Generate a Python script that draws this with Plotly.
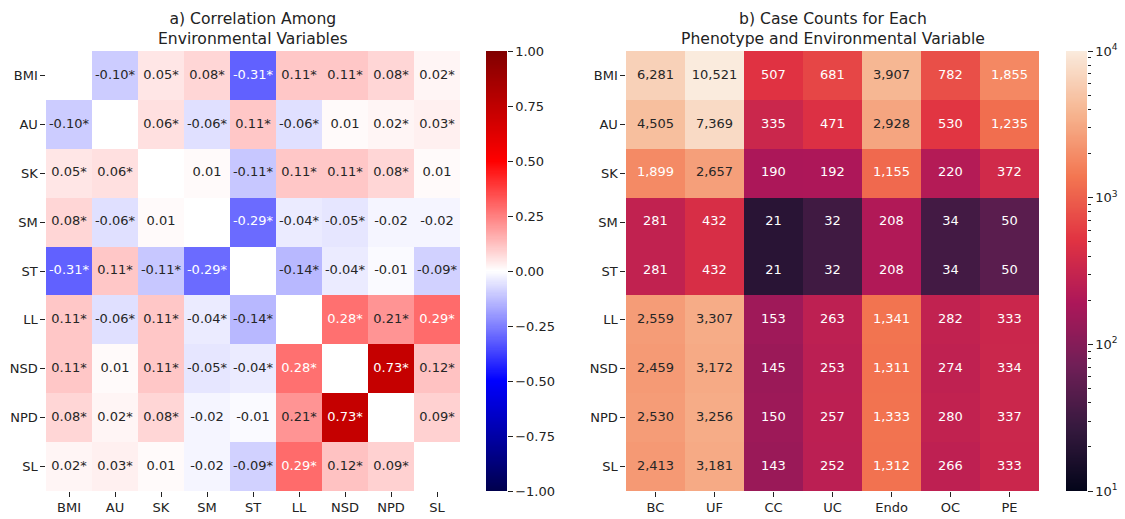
import numpy as np
import plotly.graph_objects as go

# ---------------- data ----------------
env_vars = ["BMI", "AU", "SK", "SM", "ST", "LL", "NSD", "NPD", "SL"]
phenotypes = ["BC", "UF", "CC", "UC", "Endo", "OC", "PE"]

corr_BMI = [None, -0.10, 0.05, 0.08, -0.31, 0.11, 0.11, 0.08, 0.02]
corr_AU = [-0.10, None, 0.06, -0.06, 0.11, -0.06, 0.01, 0.02, 0.03]
corr_SK = [0.05, 0.06, None, 0.01, -0.11, 0.11, 0.11, 0.08, 0.01]
corr_SM = [0.08, -0.06, 0.01, None, -0.29, -0.04, -0.05, -0.02, -0.02]
corr_ST = [-0.31, 0.11, -0.11, -0.29, None, -0.14, -0.04, -0.01, -0.09]
corr_LL = [0.11, -0.06, 0.11, -0.04, -0.14, None, 0.28, 0.21, 0.29]
corr_NSD = [0.11, 0.01, 0.11, -0.05, -0.04, 0.28, None, 0.73, 0.12]
corr_NPD = [0.08, 0.02, 0.08, -0.02, -0.01, 0.21, 0.73, None, 0.09]
corr_SL = [0.02, 0.03, 0.01, -0.02, -0.09, 0.29, 0.12, 0.09, None]

sig_BMI = [0, 1, 1, 1, 1, 1, 1, 1, 1]
sig_AU = [1, 0, 1, 1, 1, 1, 0, 1, 1]
sig_SK = [1, 1, 0, 0, 1, 1, 1, 1, 0]
sig_SM = [1, 1, 0, 0, 1, 1, 1, 0, 0]
sig_ST = [1, 1, 1, 1, 0, 1, 1, 0, 1]
sig_LL = [1, 1, 1, 1, 1, 0, 1, 1, 1]
sig_NSD = [1, 0, 1, 1, 1, 1, 0, 1, 1]
sig_NPD = [1, 1, 1, 0, 0, 1, 1, 0, 1]
sig_SL = [1, 1, 0, 0, 1, 1, 1, 1, 0]

cases_BMI = [6281, 10521, 507, 681, 3907, 782, 1855]
cases_AU = [4505, 7369, 335, 471, 2928, 530, 1235]
cases_SK = [1899, 2657, 190, 192, 1155, 220, 372]
cases_SM = [281, 432, 21, 32, 208, 34, 50]
cases_ST = [281, 432, 21, 32, 208, 34, 50]
cases_LL = [2559, 3307, 153, 263, 1341, 282, 333]
cases_NSD = [2459, 3172, 145, 253, 1311, 274, 334]
cases_NPD = [2530, 3256, 150, 257, 1333, 280, 337]
cases_SL = [2413, 3181, 143, 252, 1312, 266, 333]

corr_ticks = [1.0, 0.75, 0.5, 0.25, 0.0, -0.25, -0.5, -0.75, -1.0]
count_decades = [1, 2, 3, 4]

corr = [corr_BMI, corr_AU, corr_SK, corr_SM, corr_ST, corr_LL, corr_NSD, corr_NPD, corr_SL]
sig = [sig_BMI, sig_AU, sig_SK, sig_SM, sig_ST, sig_LL, sig_NSD, sig_NPD, sig_SL]
cases = [cases_BMI, cases_AU, cases_SK, cases_SM, cases_ST, cases_LL, cases_NSD, cases_NPD, cases_SL]

# ---------------- colormaps ----------------
seismic = [(0.0, (0, 0, 76.5)), (0.25, (0, 0, 255)), (0.5, (255, 255, 255)),
           (0.75, (255, 0, 0)), (1.0, (127.5, 0, 0))]
rocket = [(0.0, (3, 5, 26)), (1 / 7, (53, 25, 62)), (2 / 7, (112, 31, 87)),
          (3 / 7, (173, 23, 89)), (4 / 7, (225, 51, 66)), (5 / 7, (243, 118, 81)),
          (6 / 7, (246, 180, 143)), (1.0, (250, 235, 221))]


def to_scale(stops):
    return [[p, "rgb(%g,%g,%g)" % c] for p, c in stops]


def interp(stops, t):
    t = min(max(t, 0.0), 1.0)
    for (p0, c0), (p1, c1) in zip(stops[:-1], stops[1:]):
        if t <= p1:
            f = (t - p0) / (p1 - p0)
            return [c0[i] + f * (c1[i] - c0[i]) for i in range(3)]
    return list(stops[-1][1])


def lum(rgb):
    lin = []
    for c in rgb:
        c = c / 255.0
        lin.append(c / 12.92 if c <= 0.03928 else ((c + 0.055) / 1.055) ** 2.4)
    return 0.2126 * lin[0] + 0.7152 * lin[1] + 0.0722 * lin[2]


DARK = "rgb(38,38,38)"
FONT = "DejaVu Sans"

fig = go.Figure()

# ---------------- panel a ----------------
fig.add_trace(go.Heatmap(
    z=corr, x=env_vars, y=env_vars, zmin=-1, zmax=1,
    colorscale=to_scale(seismic), showscale=False, hoverongaps=False,
    xaxis="x", yaxis="y"))

tx, ty, tt, tc = [], [], [], []
for i, r in enumerate(env_vars):
    for j, c in enumerate(env_vars):
        v = corr[i][j]
        if v is None:
            continue
        tx.append(c)
        ty.append(r)
        tt.append(f"{v:.2f}" + ("*" if sig[i][j] else ""))
        col = interp(seismic, (v + 1) / 2)
        tc.append(DARK if lum(col) > 0.408 else "white")
fig.add_trace(go.Scatter(x=tx, y=ty, text=tt, mode="text",
                         textfont=dict(color=tc, size=13, family=FONT),
                         hoverinfo="skip", xaxis="x", yaxis="y", showlegend=False))

# colorbar a
lev_a = np.linspace(-1, 1, 401)
fig.add_trace(go.Heatmap(z=[[v] for v in lev_a], y=lev_a, x=[0], zmin=-1, zmax=1,
                         colorscale=to_scale(seismic), showscale=False,
                         hoverinfo="skip", xaxis="x3", yaxis="y3"))

# ---------------- panel b ----------------
logc = [[np.log10(v) for v in row] for row in cases]
fig.add_trace(go.Heatmap(
    z=logc, x=phenotypes, y=env_vars, zmin=1, zmax=4,
    colorscale=to_scale(rocket), showscale=False,
    customdata=cases, hovertemplate="%{y} / %{x}: %{customdata:,}<extra></extra>",
    xaxis="x2", yaxis="y2"))

bx, by, bt, bc = [], [], [], []
for i, r in enumerate(env_vars):
    for j, c in enumerate(phenotypes):
        v = cases[i][j]
        bx.append(c)
        by.append(r)
        bt.append(f"{v:,}")
        col = interp(rocket, (np.log10(v) - 1) / 3)
        bc.append(DARK if lum(col) > 0.408 else "white")
fig.add_trace(go.Scatter(x=bx, y=by, text=bt, mode="text",
                         textfont=dict(color=bc, size=13, family=FONT),
                         hoverinfo="skip", xaxis="x2", yaxis="y2", showlegend=False))

# colorbar b
lev_b = np.linspace(1, 4, 401)
fig.add_trace(go.Heatmap(z=[[v] for v in lev_b], y=lev_b, x=[0], zmin=1, zmax=4,
                         colorscale=to_scale(rocket), showscale=False,
                         hoverinfo="skip", xaxis="x4", yaxis="y4"))

# ---------------- layout ----------------
W, H = 1125, 519


def px_x(a, b):
    return [a / W, b / W]


def px_y(top, bottom):
    return [1 - bottom / H, 1 - top / H]


tick_common = dict(ticks="outside", ticklen=4.6, tickwidth=1, tickcolor="#222",
                   showgrid=False, zeroline=False, showline=False, automargin=False,
                   tickfont=dict(family=FONT, size=13, color="#222"))

minor_vals = [np.log10(k * 10 ** e) for e in [1, 2, 3] for k in range(2, 10)]

fig.update_layout(
    width=W, height=H, margin=dict(l=0, r=0, t=0, b=0),
    paper_bgcolor="white", plot_bgcolor="white", showlegend=False,
    font=dict(family=FONT, color="#222"),
    xaxis=dict(domain=px_x(46, 460), anchor="y", range=[-0.5, 8.5],
               categoryorder="array", categoryarray=env_vars, **tick_common),
    yaxis=dict(domain=px_y(51, 491), anchor="x", range=[8.5, -0.5],
               categoryorder="array", categoryarray=env_vars, **tick_common),
    xaxis2=dict(domain=px_x(626, 1039), anchor="y2", range=[-0.5, 6.5],
                categoryorder="array", categoryarray=phenotypes, **tick_common),
    yaxis2=dict(domain=px_y(51, 491), anchor="x2", range=[8.5, -0.5],
                categoryorder="array", categoryarray=env_vars, **tick_common),
    xaxis3=dict(domain=px_x(486, 507), anchor="y3", range=[-0.5, 0.5],
                visible=False, fixedrange=True),
    yaxis3=dict(domain=px_y(51, 491), anchor="x3", side="right", range=[-1, 1],
                tickmode="array", tickvals=corr_ticks,
                ticktext=[f"{v:.2f}".replace("-", "\u2212") for v in corr_ticks],
                fixedrange=True, **tick_common),
    xaxis4=dict(domain=px_x(1066, 1087), anchor="y4", range=[-0.5, 0.5],
                visible=False, fixedrange=True),
    yaxis4=dict(domain=px_y(51, 491), anchor="x4", side="right", range=[1, 4],
                tickmode="array", tickvals=count_decades,
                ticktext=[f"10<sup>{d}</sup>" for d in count_decades],
                minor=dict(tickmode="array", tickvals=minor_vals, ticks="outside",
                           ticklen=2.6, tickwidth=0.8, tickcolor="#222"),
                fixedrange=True, **tick_common),
)

fig.add_annotation(text="a) Correlation Among<br>Environmental Variables",
                   xref="paper", yref="paper", x=253 / W, y=1 - 29 / H,
                   xanchor="center", yanchor="middle", showarrow=False,
                   font=dict(family=FONT, size=15.6, color="#222"))
fig.add_annotation(text="b) Case Counts for Each<br>Phenotype and Environmental Variable",
                   xref="paper", yref="paper", x=832.5 / W, y=1 - 29 / H,
                   xanchor="center", yanchor="middle", showarrow=False,
                   font=dict(family=FONT, size=15.6, color="#222"))

fig.write_html("out.html")
